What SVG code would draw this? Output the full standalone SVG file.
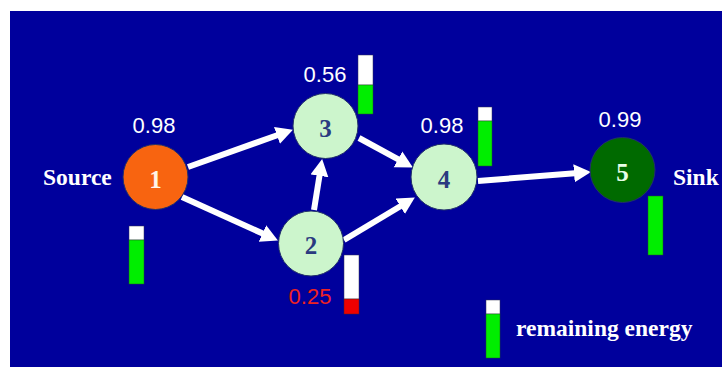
<svg xmlns="http://www.w3.org/2000/svg" width="722" height="367" viewBox="0 0 722 367">
<defs>
<marker id="ah" markerUnits="userSpaceOnUse" markerWidth="20" markerHeight="20" refX="4" refY="9" orient="auto">
<path d="M0,0 L17,9 L0,18 z" fill="#ffffff"/>
</marker>
<style>
.node{stroke:#22306a;stroke-width:1}
.lbl{font-family:"Liberation Serif","Times New Roman",serif;font-weight:bold;font-size:25px;text-anchor:middle}
.val{font-family:"Liberation Sans",Arial,sans-serif;font-size:22px;fill:#ffffff}
.word{font-family:"Liberation Serif","Times New Roman",serif;font-weight:bold;font-size:23.5px;fill:#ffffff}
.edge{stroke:#ffffff;stroke-width:6;fill:none;marker-end:url(#ah)}
.w{fill:#ffffff;stroke:#333355;stroke-width:0.5}
.g{fill:#00ee00;stroke:#225522;stroke-width:0.5}
.r{fill:#ee0000;stroke:#552222;stroke-width:0.5}
</style>
</defs>
<rect x="0" y="0" width="722" height="367" fill="#ffffff"/>
<rect x="10" y="11" width="712" height="356" fill="#00009c"/>
<g id="connectors">
<line class="edge" x1="188" y1="167" x2="280.7" y2="134"/>
<line class="edge" x1="182" y1="197" x2="266.1" y2="235.1"/>
<line class="edge" x1="314" y1="210" x2="320.1" y2="171.9"/>
<line class="edge" x1="359" y1="138" x2="401.5" y2="161.2"/>
<line class="edge" x1="344" y1="240" x2="403.7" y2="204.2"/>
<line class="edge" x1="478" y1="181" x2="578" y2="173"/>
</g>
<g id="node1">
<circle class="node" cx="155.5" cy="177" r="32.5" fill="#f86410"/>
<text class="lbl" x="155.5" y="188" fill="#fff4e8">1</text>
<text class="val" x="154" y="133" text-anchor="middle">0.98</text>
<text class="word" x="43" y="185">Source</text>
<rect class="w" x="129" y="226" width="15" height="14"/>
<rect class="g" x="129" y="240" width="15" height="44"/>
</g>
<g id="node2">
<circle class="node" cx="311" cy="243.5" r="32.5" fill="#ccf5cc"/>
<text class="lbl" x="311" y="254" fill="#2a3a80">2</text>
<text class="val" x="310" y="304" text-anchor="middle" style="fill:#ee2222">0.25</text>
<rect class="w" x="344" y="255" width="15" height="44"/>
<rect class="r" x="344" y="299" width="15" height="15"/>
</g>
<g id="node3">
<circle class="node" cx="325.5" cy="126" r="32.5" fill="#ccf5cc"/>
<text class="lbl" x="325.5" y="137" fill="#2a3a80">3</text>
<text class="val" x="325" y="82" text-anchor="middle">0.56</text>
<rect class="w" x="358" y="55" width="15" height="30"/>
<rect class="g" x="358" y="85" width="15" height="29"/>
</g>
<g id="node4">
<circle class="node" cx="444" cy="177" r="33" fill="#ccf5cc"/>
<text class="lbl" x="444" y="188" fill="#2a3a80">4</text>
<text class="val" x="442" y="133" text-anchor="middle">0.98</text>
<rect class="w" x="478" y="107" width="14" height="14"/>
<rect class="g" x="478" y="121" width="14" height="45"/>
</g>
<g id="node5">
<circle class="node" cx="622.5" cy="170" r="32.5" fill="#006a00"/>
<text class="lbl" x="622.5" y="181" fill="#e8ffe8">5</text>
<text class="val" x="620" y="127" text-anchor="middle">0.99</text>
<text class="word" x="673" y="185">Sink</text>
<rect class="g" x="648" y="196" width="15" height="59"/>
</g>
<g id="legend">
<rect class="w" x="486" y="300" width="14" height="14"/>
<rect class="g" x="486" y="314" width="14" height="44"/>
<text class="word" x="516" y="336">remaining energy</text>
</g>
</svg>
